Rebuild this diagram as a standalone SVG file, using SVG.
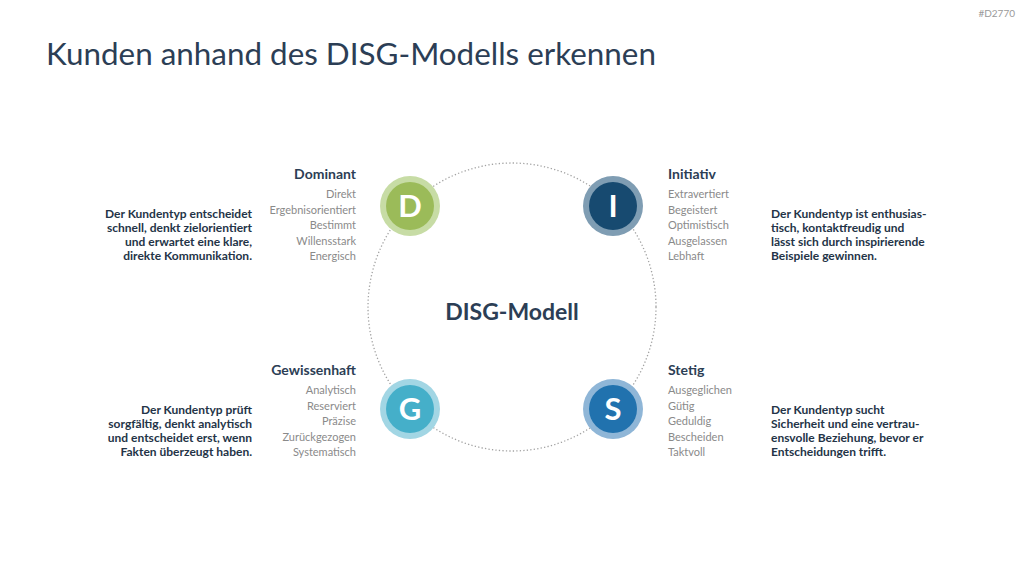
<svg xmlns="http://www.w3.org/2000/svg" width="1024" height="576" viewBox="0 0 1024 576">
<style>
text{font-family:Lato,"Open Sans","Liberation Sans",sans-serif}
.title{font-size:31.4px;fill:#2c3e55}
.head{font-size:14px;font-weight:bold;fill:#2c3e55}
.item{font-size:11px;fill:#8a8a8a}
.desc{font-size:12px;font-weight:bold;fill:#243447}
.letter{font-size:31px;font-weight:bold;fill:#fff;text-anchor:middle}
.r{text-anchor:end}
</style>
<rect width="1024" height="576" fill="#fff"/>
<text x="1015" y="17" class="r" style="font-size:10px;fill:#9a9a9a">#D2770</text>
<text x="46" y="65" class="title">Kunden anhand des DISG-Modells erkennen</text>
<g id="connectors">
<circle cx="512" cy="307" r="144" fill="none" stroke="#a3a3a3" stroke-width="1.3" stroke-dasharray="1.3 2.2"/>
</g>
<g id="center"><text x="512" y="320" text-anchor="middle" style="font-size:23px;font-weight:bold;fill:#2c3e55">DISG-Modell</text></g>
<g id="node-D">
<circle cx="410" cy="206" r="30" fill="#c7dca5"/>
<circle cx="410" cy="206" r="24" fill="#9bbb59"/>
<text x="410" y="217" class="letter">D</text>
<text x="356" y="179" class="head r">Dominant</text>
<text class="item r"><tspan x="356" y="198">Direkt</tspan><tspan x="356" y="213.5">Ergebnisorientiert</tspan><tspan x="356" y="229">Bestimmt</tspan><tspan x="356" y="244.5">Willensstark</tspan><tspan x="356" y="260">Energisch</tspan></text>
<text class="desc r"><tspan x="252" y="218">Der Kundentyp entscheidet</tspan><tspan x="252" y="232">schnell, denkt zielorientiert</tspan><tspan x="252" y="246">und erwartet eine klare,</tspan><tspan x="252" y="260">direkte Kommunikation.</tspan></text>
</g>
<g id="node-I">
<circle cx="613" cy="206" r="30" fill="#7f9db3"/>
<circle cx="613" cy="206" r="24" fill="#174a70"/>
<text x="613" y="217" class="letter">I</text>
<text x="668" y="179" class="head">Initiativ</text>
<text class="item"><tspan x="668" y="198">Extravertiert</tspan><tspan x="668" y="213.5">Begeistert</tspan><tspan x="668" y="229">Optimistisch</tspan><tspan x="668" y="244.5">Ausgelassen</tspan><tspan x="668" y="260">Lebhaft</tspan></text>
<text class="desc"><tspan x="771" y="218">Der Kundentyp ist enthusias-</tspan><tspan x="771" y="232">tisch, kontaktfreudig und</tspan><tspan x="771" y="246">lässt sich durch inspirierende</tspan><tspan x="771" y="260">Beispiele gewinnen.</tspan></text>
</g>
<g id="node-G">
<circle cx="410" cy="409" r="30" fill="#a2d6e4"/>
<circle cx="410" cy="409" r="24" fill="#45afc9"/>
<text x="410" y="420" class="letter">G</text>
<text x="356" y="375" class="head r">Gewissenhaft</text>
<text class="item r"><tspan x="356" y="394">Analytisch</tspan><tspan x="356" y="409.5">Reserviert</tspan><tspan x="356" y="425">Präzise</tspan><tspan x="356" y="440.5">Zurückgezogen</tspan><tspan x="356" y="456">Systematisch</tspan></text>
<text class="desc r"><tspan x="252" y="414">Der Kundentyp prüft</tspan><tspan x="252" y="428">sorgfältig, denkt analytisch</tspan><tspan x="252" y="442">und entscheidet erst, wenn</tspan><tspan x="252" y="456">Fakten überzeugt haben.</tspan></text>
</g>
<g id="node-S">
<circle cx="613" cy="409" r="30" fill="#8fb6d7"/>
<circle cx="613" cy="409" r="24" fill="#2172ae"/>
<text x="613" y="420" class="letter">S</text>
<text x="668" y="375" class="head">Stetig</text>
<text class="item"><tspan x="668" y="394">Ausgeglichen</tspan><tspan x="668" y="409.5">Gütig</tspan><tspan x="668" y="425">Geduldig</tspan><tspan x="668" y="440.5">Bescheiden</tspan><tspan x="668" y="456">Taktvoll</tspan></text>
<text class="desc"><tspan x="771" y="414">Der Kundentyp sucht</tspan><tspan x="771" y="428">Sicherheit und eine vertrau-</tspan><tspan x="771" y="442">ensvolle Beziehung, bevor er</tspan><tspan x="771" y="456">Entscheidungen trifft.</tspan></text>
</g>
</svg>
